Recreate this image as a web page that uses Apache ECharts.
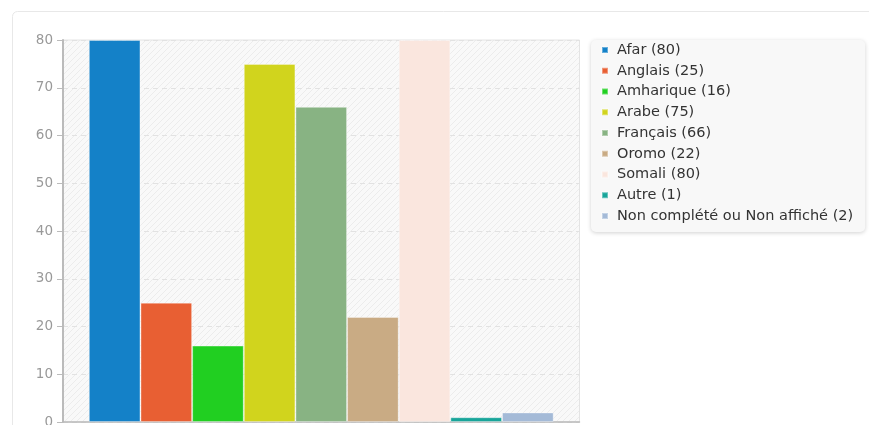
<!DOCTYPE html>
<html>
<head>
<meta charset="utf-8">
<script src="https://cdn.jsdelivr.net/npm/echarts@6/dist/echarts.min.js"></script>
<style>
html,body{margin:0;padding:0;background:#fff;}
#chart{width:869px;height:425px;}
</style>
</head>
<body>
<div id="chart"></div>
<script>
const categories = ['Afar', 'Anglais', 'Amharique', 'Arabe', 'Français', 'Oromo', 'Somali', 'Autre', 'Non complété ou Non affiché'];
const counts = [80, 25, 16, 75, 66, 22, 80, 1, 2];
const colors = ['#1481c8', '#e85f33', '#21cf21', '#d1d41d', '#88b383', '#c9ab84', '#fae6de', '#18a59a', '#a4bad7'];
const yTicks = [0, 10, 20, 30, 40, 50, 60, 70, 80];

function hatch() {
  const c = document.createElement('canvas');
  c.width = 6; c.height = 6;
  const g = c.getContext('2d');
  g.fillStyle = '#f9f9f9';
  g.fillRect(0, 0, 6, 6);
  g.strokeStyle = '#ececec';
  g.lineWidth = 1;
  g.beginPath();
  g.moveTo(-1, 7); g.lineTo(7, -1);
  g.moveTo(-1, 1); g.lineTo(1, -1);
  g.moveTo(5, 7); g.lineTo(7, 5);
  g.stroke();
  return c;
}

const chart = echarts.init(document.getElementById('chart'), null, {renderer: 'canvas'});
const font = 'DejaVu Sans';

chart.setOption({
  animation: false,
  backgroundColor: '#fff',
  color: colors,
  textStyle: {fontFamily: font},
  graphic: [{
    type: 'rect', z: -10, silent: true,
    shape: {x: 12.5, y: 11.5, width: 900, height: 500, r: 5},
    style: {fill: '#fff', stroke: '#e8e8e8', lineWidth: 1}
  }],
  grid: {
    left: 63, top: 40, right: 289.5, bottom: 3,
    outerBoundsMode: 'none',
    containLabel: false,
    show: true,
    backgroundColor: {image: hatch(), repeat: 'repeat'},
    borderColor: '#e4e4e4', borderWidth: 1
  },
  legend: {
    orient: 'vertical',
    left: 591, top: 40,
    padding: [2, 12, 8, 10],
    itemGap: 4.75,
    itemWidth: 6, itemHeight: 6,
    icon: 'rect',
    backgroundColor: '#f8f8f8',
    borderRadius: 5,
    shadowBlur: 4, shadowColor: 'rgba(0,0,0,0.18)', shadowOffsetX: 0, shadowOffsetY: 1,
    textStyle: {fontFamily: font, fontSize: 14.5, color: '#333', lineHeight: 16, padding: [0, 0, 0, 4]},
    formatter: function (name) {
      const i = categories.indexOf(name);
      return name + ' (' + counts[i] + ')';
    },
    data: categories
  },
  xAxis: [{
    type: 'category',
    data: [''],
    axisLine: {show: true, lineStyle: {color: '#bbb', width: 1.5}},
    axisTick: {show: false},
    axisLabel: {show: false},
    splitLine: {show: false}
  }, {
    type: 'value', min: 0, max: 2, interval: 1, show: false,
    position: 'bottom',
    splitLine: {show: true, lineStyle: {color: '#e2e2e2', type: [5, 4]}}
  }],
  yAxis: {
    type: 'value', min: yTicks[0], max: yTicks[yTicks.length - 1], interval: 10,
    axisLine: {show: true, lineStyle: {color: '#bbb', width: 2}},
    axisTick: {show: true, length: 6, lineStyle: {color: '#bbb', width: 1}},
    axisLabel: {color: '#999', fontSize: 13.5, fontFamily: font, margin: 10},
    splitLine: {show: true, lineStyle: {color: '#e2e2e2', type: [5, 4]}}
  },
  series: categories.map(function (name, i) {
    return {
      name: name,
      type: 'bar',
      xAxisIndex: 0,
      barGap: '0%',
      barCategoryGap: '10%',
      itemStyle: {color: colors[i], borderColor: 'rgba(255,255,255,0.35)', borderWidth: 1},
      data: [counts[i]]
    };
  })
});
</script>
</body>
</html>
